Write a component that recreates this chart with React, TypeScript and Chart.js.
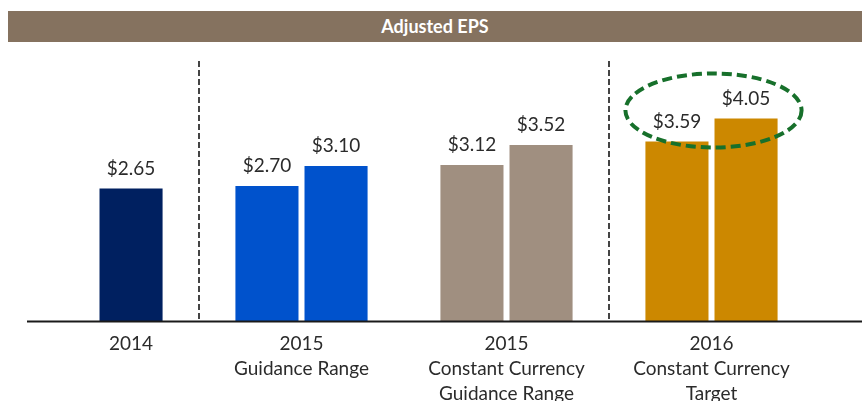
import React, { useEffect, useRef } from 'react';
import { Chart, registerables } from 'chart.js';

Chart.register(...registerables);

const title = 'Adjusted EPS';
const categories: string[][] = [
  ['2014'],
  ['2015', 'Guidance Range'],
  ['2015', 'Constant Currency', 'Guidance Range'],
  ['2016', 'Constant Currency', 'Target'],
];
const lowValues: (number | null)[] = [null, 2.7, 3.12, 3.59];
const highValues: (number | null)[] = [2.65, 3.1, 3.52, 4.05];
const barColors = ['#002060', '#0052CC', '#A08F80', '#CC8800'];
const separatorAfter = [0, 2];
const highlightIndex = 3;
const yMax = 5.2;

const FONT = "Lato, 'Open Sans', sans-serif";
const TEXT_COLOR = '#2b2b2b';

const fullAxisLine = {
  id: 'fullAxisLine',
  afterDraw(chart: any) {
    const { ctx, chartArea } = chart;
    ctx.save();
    ctx.strokeStyle = '#1a1a1a';
    ctx.lineWidth = 2;
    ctx.beginPath();
    ctx.moveTo(43, chartArea.bottom + 0.5);
    ctx.lineTo(chart.width, chartArea.bottom + 0.5);
    ctx.stroke();
    ctx.restore();
  },
};

const separators = {
  id: 'separators',
  beforeDatasetsDraw(chart: any) {
    const { ctx, chartArea, scales } = chart;
    const x = scales.x;
    ctx.save();
    ctx.strokeStyle = '#444';
    ctx.lineWidth = 2;
    ctx.setLineDash([6, 3]);
    separatorAfter.forEach((i) => {
      const px = (x.getPixelForTick(i) + x.getPixelForTick(i + 1)) / 2;
      ctx.beginPath();
      ctx.moveTo(px, chartArea.top);
      ctx.lineTo(px, chartArea.bottom);
      ctx.stroke();
    });
    ctx.restore();
  },
};

const categoryLabels = {
  id: 'categoryLabels',
  afterDraw(chart: any) {
    const { ctx, chartArea } = chart;
    const lineH = 24.7;
    ctx.save();
    ctx.fillStyle = TEXT_COLOR;
    ctx.font = `19px ${FONT}`;
    ctx.textAlign = 'center';
    ctx.textBaseline = 'middle';
    categories.forEach((lines, i) => {
      const xs: number[] = [];
      chart.data.datasets.forEach((ds: any, di: number) => {
        const v = ds.data[i];
        if (v === null || v === undefined) return;
        const el = chart.getDatasetMeta(di).data[i];
        if (el) xs.push(el.x);
      });
      const cx = xs.length ? xs.reduce((s, v) => s + v, 0) / xs.length : chart.scales.x.getPixelForTick(i);
      lines.forEach((t, li) => {
        ctx.fillText(t, cx, chartArea.bottom + 11 + lineH / 2 + li * lineH);
      });
    });
    ctx.restore();
  },
};

const valueLabels = {
  id: 'valueLabels',
  afterDatasetsDraw(chart: any) {
    const { ctx } = chart;
    ctx.save();
    ctx.fillStyle = TEXT_COLOR;
    ctx.font = `19px ${FONT}`;
    ctx.textAlign = 'center';
    ctx.textBaseline = 'middle';
    chart.data.datasets.forEach((ds: any, di: number) => {
      const meta = chart.getDatasetMeta(di);
      meta.data.forEach((el: any, i: number) => {
        const v = ds.data[i];
        if (v === null || v === undefined) return;
        ctx.fillText(`$${Number(v).toFixed(2)}`, el.x, el.y - 20);
      });
    });
    ctx.restore();
  },
};

const highlightEllipse = {
  id: 'highlightEllipse',
  afterDatasetsDraw(chart: any) {
    const { ctx } = chart;
    const a = chart.getDatasetMeta(0).data[highlightIndex];
    const b = chart.getDatasetMeta(1).data[highlightIndex];
    if (!a || !b) return;
    const left = a.x - a.width / 2;
    const right = b.x + b.width / 2;
    const cx = (left + right) / 2 + 2;
    const cy = Math.min(a.y, b.y) - 8;
    const rx = (right - left) / 2 + 22;
    const ry = 37;
    ctx.save();
    ctx.strokeStyle = '#17702B';
    ctx.lineWidth = 4;
    ctx.setLineDash([10, 5]);
    ctx.beginPath();
    ctx.ellipse(cx, cy, rx, ry, 0, 0, Math.PI * 2);
    ctx.stroke();
    ctx.restore();
  },
};

function EpsChart() {
  const ref = useRef<HTMLCanvasElement | null>(null);
  useEffect(() => {
    if (!ref.current) return;
    const chart = new Chart(ref.current, {
      type: 'bar',
      data: {
        labels: categories.map((l) => l.join(' ')),
        datasets: [
          {
            label: 'Low',
            data: lowValues as any,
            backgroundColor: barColors,
            categoryPercentage: 0.674,
            barPercentage: 0.913,
          },
          {
            label: 'High',
            data: highValues as any,
            backgroundColor: barColors,
            categoryPercentage: 0.674,
            barPercentage: 0.913,
          },
        ],
      },
      options: {
        animation: false,
        responsive: false,
        maintainAspectRatio: false,
        devicePixelRatio: 1,
        layout: { padding: { left: 10, right: 48, top: 61, bottom: 0 } },
        plugins: {
          legend: { display: false },
          tooltip: { enabled: false },
          title: { display: false },
        },
        scales: {
          x: {
            type: 'category',
            grid: { display: false, drawTicks: false },
            border: { display: false },
            ticks: { display: false },
            afterFit: (scale: any) => {
              scale.height = 80;
            },
          },
          y: {
            display: false,
            min: 0,
            max: yMax,
          },
        },
      },
      plugins: [separators, fullAxisLine, valueLabels, highlightEllipse, categoryLabels],
    });
    return () => chart.destroy();
  }, []);
  return <canvas ref={ref} width={878} height={401} style={{ position: 'absolute', left: -16, top: 0, width: 878, height: 401 }} />;
}

export default function App() {
  return (
    <div style={{ position: 'fixed', left: 0, top: 0, width: 862, height: 401, overflow: 'hidden', background: '#fff' }}>
      <div
        style={{
          position: 'absolute',
          left: 8,
          top: 11,
          width: 854,
          height: 31,
          background: '#85725F',
          color: '#fff',
          fontFamily: FONT,
          fontWeight: 700,
          fontSize: 18,
          lineHeight: '31px',
          textAlign: 'center',
          zIndex: 1,
        }}
      >
        {title}
      </div>
      <EpsChart />
    </div>
  );
}
